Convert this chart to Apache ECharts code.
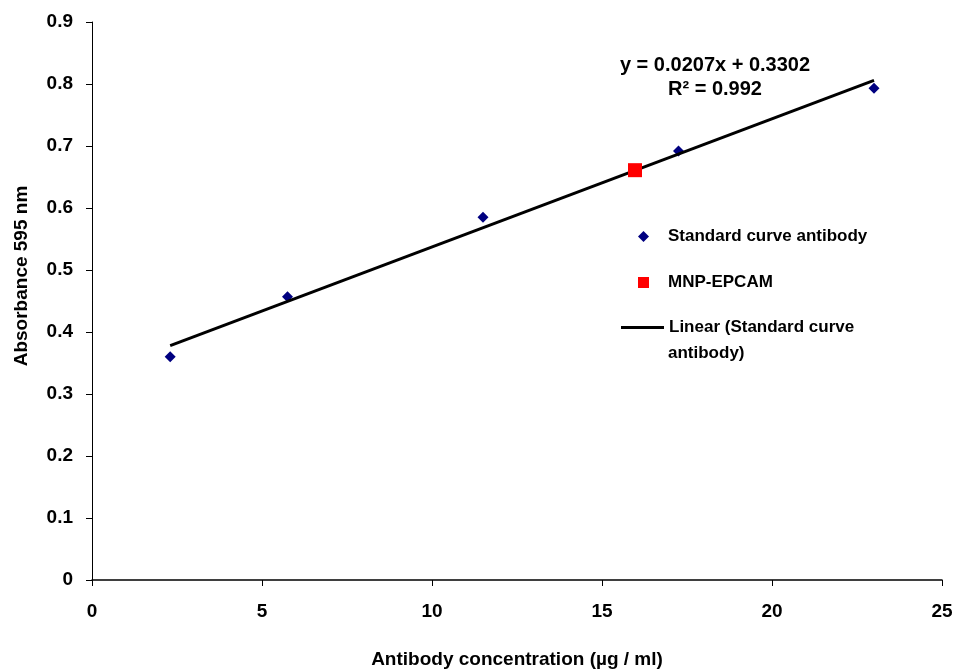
<!DOCTYPE html>
<html>
<head>
<meta charset="utf-8">
<script src="https://cdn.jsdelivr.net/npm/echarts@6/dist/echarts.min.js"></script>
<style>
html, body { margin: 0; padding: 0; background: #fff; }
#chart { width: 959px; height: 670px; }
</style>
</head>
<body>
<div id="chart"></div>
<script>
// 标准曲线数据
const stdX = [2.3, 5.75, 11.5, 17.25, 23]
const stdY = [0.36, 0.457, 0.585, 0.692, 0.793]
// 样品点
const sampleX = [15.97]
const sampleY = [0.661]
// 趋势线端点
const trendX = [2.3, 23]
const trendY = [0.378, 0.806]
const eqText = 'y = 0.0207x + 0.3302'
const r2Text = 'R² = 0.992'

const FONT = '"Liberation Sans", Arial, sans-serif'

const chart = echarts.init(document.getElementById('chart'))

const option = {
    animation: false,
    grid: { left: 92, right: 17, top: 22, bottom: 90, outerBoundsMode: 'none' },
    xAxis: {
        type: 'value',
        min: 0, max: 25, interval: 5,
        splitLine: { show: false },
        axisLine: { lineStyle: { color: '#000', width: 1.5 } },
        axisTick: { length: 6, lineStyle: { color: '#000' } },
        axisLabel: { color: '#000', fontFamily: FONT, fontWeight: 'bold', fontSize: 19, margin: 22 },
        name: 'Antibody concentration (µg / ml)',
        nameLocation: 'middle',
        nameGap: 70,
        nameTextStyle: { color: '#000', fontFamily: FONT, fontWeight: 'bold', fontSize: 19 }
    },
    yAxis: {
        type: 'value',
        min: 0, max: 0.9, interval: 0.1,
        splitLine: { show: false },
        axisLine: { show: true, lineStyle: { color: '#000', width: 1 } },
        axisTick: { show: true, length: 6, lineStyle: { color: '#000' } },
        axisLabel: { color: '#000', fontFamily: FONT, fontWeight: 'bold', fontSize: 19, margin: 19,
            formatter: v => v === 0 ? '0' : v.toFixed(1) }
    },
    legend: [
        {
            orient: 'vertical',
            left: 638, top: 228,
            padding: 0,
            itemWidth: 11, itemHeight: 11,
            itemGap: 29,
            data: [
                { name: 'Standard curve antibody', icon: 'diamond' },
                { name: 'MNP-EPCAM', icon: 'rect' }
            ],
            textStyle: { color: '#000', fontFamily: FONT, fontWeight: 'bold', fontSize: 17, padding: [0, 0, 0, 14] }
        },
        {
            orient: 'vertical',
            left: 621, top: 319,
            padding: 0,
            itemWidth: 43, itemHeight: 3,
            data: [{ name: 'Linear (Standard curve antibody)', icon: 'rect' }],
            formatter: () => 'Linear (Standard curve',
            textStyle: { color: '#000', fontFamily: FONT, fontWeight: 'bold', fontSize: 17 }
        }
    ],
    graphic: [
        {
            type: 'text',
            style: { text: eqText, x: 715, y: 65, textAlign: 'center', textVerticalAlign: 'middle',
                fill: '#000', font: 'bold 20px ' + FONT }
        },
        {
            type: 'text',
            style: { text: r2Text, x: 715, y: 89, textAlign: 'center', textVerticalAlign: 'middle',
                fill: '#000', font: 'bold 20px ' + FONT }
        },
        {
            type: 'text',
            style: { text: 'antibody)', x: 668, y: 353, textAlign: 'left', textVerticalAlign: 'middle',
                fill: '#000', font: 'bold 17px ' + FONT }
        },
        {
            type: 'text', rotation: Math.PI / 2, x: 22, y: 276,
            style: { text: 'Absorbance 595 nm', textAlign: 'center', textVerticalAlign: 'middle',
                fill: '#000', font: 'bold 19px ' + FONT }
        }
    ],
    series: [
        {
            name: 'Standard curve antibody',
            type: 'scatter',
            symbol: 'diamond',
            symbolSize: [11, 11],
            itemStyle: { color: '#000080', opacity: 1 },
            data: stdX.map((x, i) => [x, stdY[i]]),
            z: 2
        },
        {
            name: 'Linear (Standard curve antibody)',
            type: 'line',
            symbol: 'none',
            lineStyle: { color: '#000', width: 3 },
            itemStyle: { color: '#000' },
            data: trendX.map((x, i) => [x, trendY[i]]),
            z: 3
        },
        {
            name: 'MNP-EPCAM',
            type: 'scatter',
            symbol: 'rect',
            symbolSize: 14,
            itemStyle: { color: '#ff0000', opacity: 1 },
            data: sampleX.map((x, i) => [x, sampleY[i]]),
            z: 4
        }
    ]
}

chart.setOption(option)
</script>
</body>
</html>
